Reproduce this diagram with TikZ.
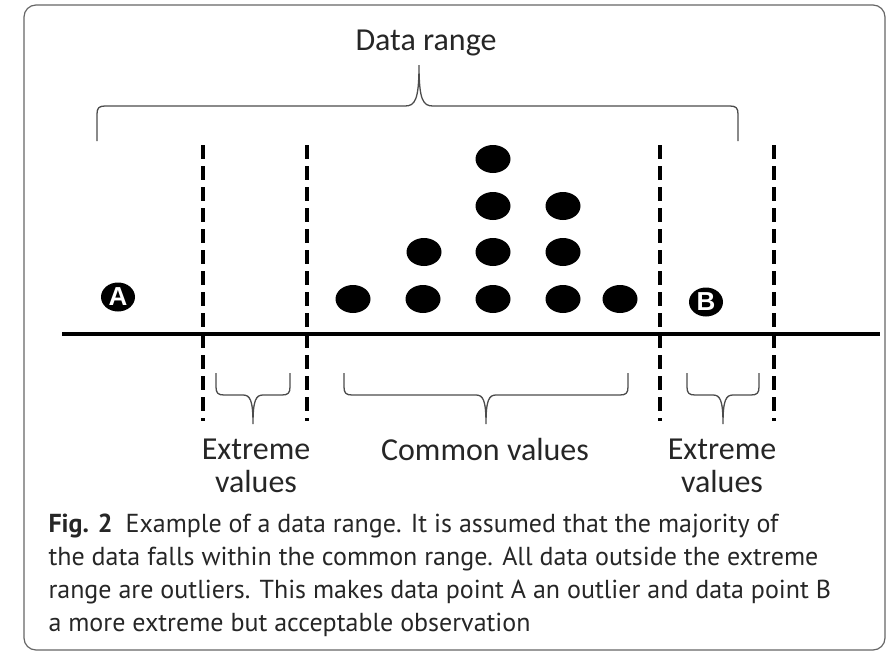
\documentclass[tikz,border=0pt]{standalone}
\usepackage{fontspec}
\setmainfont{Carlito}
\newfontfamily\capfont{PT Sans}
\newfontfamily\badgefont{Liberation Sans}
\usetikzlibrary{shapes.geometric}
\tikzset{>=latex}

\begin{document}
\begin{tikzpicture}[x=1pt,y=-1pt,
    dot/.style={ellipse,fill=black,inner sep=0pt,minimum width=35pt,minimum height=28pt},
    badge/.style={ellipse,fill=black,text=white,inner sep=0pt,minimum width=34pt,minimum height=29pt,font=\badgefont\bfseries\fontsize{26}{26}\selectfont},
    bound/.style={line width=3.5pt,dash pattern=on 14pt off 7pt},
    brace/.style={draw=black!70,line width=1.3pt},
    lbl/.style={text=black!85,font=\fontsize{32}{33}\selectfont,align=center,anchor=base}]
        % frame
        \useasboundingbox (0,0) rectangle (887,654);
        \draw[black!60,line width=1.2pt,rounded corners=12pt] (24,5) rectangle (885,650);
        % axis and range limits
        \draw[line width=4pt] (62,334) -- (880,334);
        \foreach \x in {203,307,660,774}
            \draw[bound] (\x,145) -- (\x,421);
        % data points
        \foreach \x/\y [count=\i] in {353/299,423/299,493/299,563/299,620/299,424/252,493/252,563/252,493/206,563/206,493/159}
            \node[dot] (d\i) at (\x,\y) {};
        \node[badge] (ptA) at (118,297) {A};
        \node[badge] (ptB) at (706,302) {B};
        % braces
        \draw[brace] (97,141) -- (97,114) .. controls (97,108) and (99,106) .. (105,106) -- (405,106)
            .. controls (415,106) and (419,100) .. (419,65) .. controls (419,100) and (423,106) .. (433,106)
            -- (730,106) .. controls (736,106) and (738,108) .. (738,114) -- (738,141);
        \foreach \xa/\xb in {216/290,344/628,687/759} {
            \pgfmathsetmacro\xm{(\xa+\xb)/2}
            \draw[brace] (\xa,373) -- (\xa,387) .. controls (\xa,393) and (\xa+2,395) .. (\xa+8,395) -- (\xm-10,395)
                .. controls (\xm-3,395) and (\xm,400) .. (\xm,424) .. controls (\xm,400) and (\xm+3,395) .. (\xm+10,395)
                -- (\xb-8,395) .. controls (\xb-2,395) and (\xb,393) .. (\xb,387) -- (\xb,373);
        }
        % labels (multi-line nodes sit on their last line)
        \node[lbl] (datarange) at (426,50) {Data range};
        \node[lbl] (extremeL) at (256,492) {Extreme\\values};
        \node[lbl] (common) at (485,460) {Common values};
        \node[lbl] (extremeR) at (722,492) {Extreme\\values};
        % caption
        \node[anchor=base west,align=left,text=black!85,font=\capfont\fontsize{26}{33}\selectfont] (caption) at (45,631)
            {\textbf{Fig. 2}\enspace Example of a data range. It is assumed that the majority of\\
             the data falls within the common range. All data outside the extreme\\
             range are outliers. This makes data point A an outlier and data point B\\
             a more extreme but acceptable observation};
\end{tikzpicture}
\end{document}
